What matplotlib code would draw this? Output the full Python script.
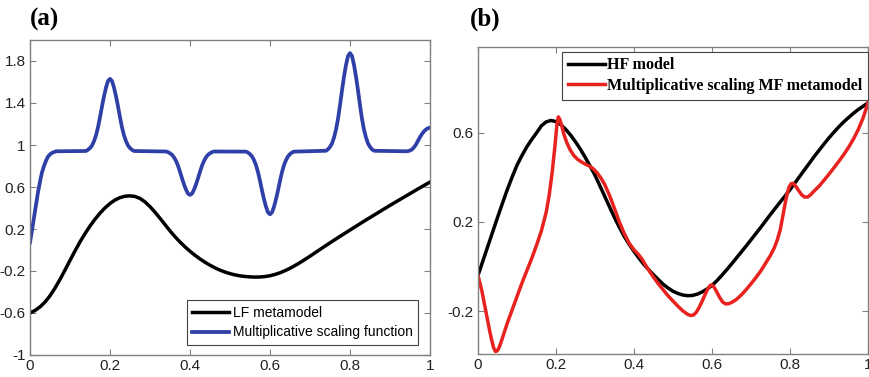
import matplotlib
matplotlib.use("Agg")
import matplotlib.pyplot as plt

# ---- panel (a): low-fidelity metamodel and multiplicative scaling function ----
lf_x = [0.0, 0.0125, 0.025, 0.0375, 0.05, 0.0625, 0.075, 0.0875, 0.1, 0.1125,
        0.125, 0.1375, 0.15, 0.1625, 0.175, 0.1875, 0.2, 0.2125, 0.225, 0.2375,
        0.25, 0.2625, 0.275, 0.2875, 0.3, 0.3125, 0.325, 0.3375, 0.35, 0.3625,
        0.375, 0.3875, 0.4, 0.4125, 0.425, 0.4375, 0.45, 0.4625, 0.475, 0.4875,
        0.5, 0.5125, 0.525, 0.5375, 0.55, 0.5625, 0.575, 0.5875, 0.6, 0.6125,
        0.625, 0.6375, 0.65, 0.6625, 0.675, 0.6875, 0.7, 0.7125, 0.725, 0.7375,
        0.75, 0.7625, 0.775, 0.7875, 0.8, 0.8125, 0.825, 0.8375, 0.85, 0.8625,
        0.875, 0.8875, 0.9, 0.9125, 0.925, 0.9375, 0.95, 0.9625, 0.975, 0.9875, 1.0]
lf_y = [-0.600, -0.576, -0.542, -0.496, -0.436, -0.363, -0.280, -0.191, -0.099, -0.009,
        0.077, 0.156, 0.228, 0.293, 0.351, 0.401, 0.443, 0.476, 0.499, 0.512,
        0.516, 0.510, 0.491, 0.458, 0.413, 0.360, 0.302, 0.242, 0.182, 0.127,
        0.076, 0.030, -0.012, -0.050, -0.085, -0.117, -0.145, -0.170, -0.192, -0.210,
        -0.225, -0.237, -0.246, -0.252, -0.256, -0.258, -0.257, -0.253, -0.245, -0.233,
        -0.217, -0.197, -0.174, -0.148, -0.120, -0.090, -0.059, -0.027, 0.005, 0.037,
        0.068, 0.099, 0.130, 0.160, 0.190, 0.220, 0.250, 0.280, 0.309, 0.338,
        0.367, 0.396, 0.425, 0.453, 0.481, 0.509, 0.537, 0.565, 0.593, 0.620, 0.647]

sc_x = [0.0, 0.005, 0.01, 0.015, 0.02, 0.025, 0.03, 0.035, 0.04, 0.045, 0.05, 0.055, 0.065,
        0.14, 0.145, 0.15, 0.155, 0.16, 0.165, 0.17, 0.175, 0.18, 0.185, 0.19, 0.195,
        0.2, 0.205, 0.21, 0.215, 0.22, 0.225, 0.23, 0.235, 0.24, 0.245, 0.25, 0.255, 0.26,
        0.34, 0.345, 0.35, 0.355, 0.36, 0.365, 0.37, 0.375, 0.38, 0.385, 0.39, 0.395,
        0.4, 0.405, 0.41, 0.415, 0.42, 0.425, 0.43, 0.435, 0.44, 0.445, 0.45, 0.455, 0.46,
        0.54, 0.545, 0.55, 0.555, 0.56, 0.565, 0.57, 0.575, 0.58, 0.585, 0.59, 0.595,
        0.6, 0.605, 0.61, 0.615, 0.62, 0.625, 0.63, 0.635, 0.64, 0.645, 0.65, 0.655, 0.66,
        0.74, 0.745, 0.75, 0.755, 0.76, 0.765, 0.77, 0.775, 0.78, 0.785, 0.79, 0.795,
        0.8, 0.805, 0.81, 0.815, 0.82, 0.825, 0.83, 0.835, 0.84, 0.845, 0.85, 0.855, 0.86,
        0.94, 0.945, 0.95, 0.955, 0.96, 0.965, 0.97, 0.975, 0.98, 0.985, 0.99, 0.995, 1.0]
sc_y = [0.07, 0.19, 0.31, 0.43, 0.55, 0.65, 0.74, 0.80, 0.85, 0.89, 0.91, 0.925, 0.94,
        0.943, 0.954, 0.971, 0.995, 1.037, 1.092, 1.168, 1.264, 1.368, 1.464, 1.547, 1.609,
        1.630, 1.609, 1.547, 1.464, 1.368, 1.264, 1.168, 1.092, 1.037, 0.995, 0.971, 0.954, 0.943,
        0.938, 0.932, 0.921, 0.907, 0.882, 0.849, 0.803, 0.745, 0.683, 0.625, 0.575, 0.537,
        0.525, 0.537, 0.575, 0.625, 0.683, 0.745, 0.803, 0.849, 0.882, 0.907, 0.921, 0.932, 0.938,
        0.937, 0.928, 0.913, 0.892, 0.856, 0.808, 0.742, 0.658, 0.568, 0.484, 0.412, 0.358,
        0.340, 0.358, 0.412, 0.484, 0.568, 0.658, 0.742, 0.808, 0.856, 0.892, 0.913, 0.928, 0.937,
        0.945, 0.959, 0.982, 1.015, 1.071, 1.146, 1.249, 1.379, 1.520, 1.651, 1.763, 1.847,
        1.875, 1.847, 1.763, 1.651, 1.520, 1.379, 1.249, 1.146, 1.071, 1.015, 0.982, 0.959, 0.945,
        0.940, 0.942, 0.947, 0.958, 0.978, 1.005, 1.040, 1.075, 1.105, 1.130, 1.148, 1.160, 1.165]

# ---- panel (b): high-fidelity model and multi-fidelity metamodel ----
hf_x = lf_x
hf_y = [-0.040, 0.025, 0.090, 0.155, 0.220, 0.283, 0.345, 0.402, 0.455, 0.498,
        0.537, 0.570, 0.600, 0.632, 0.650, 0.656, 0.651, 0.637, 0.616, 0.590,
        0.560, 0.527, 0.490, 0.451, 0.410, 0.363, 0.315, 0.267, 0.220, 0.176,
        0.135, 0.100, 0.068, 0.038, 0.010, -0.014, -0.037, -0.059, -0.080, -0.097,
        -0.111, -0.121, -0.128, -0.131, -0.130, -0.124, -0.114, -0.101, -0.085, -0.064,
        -0.040, -0.015, 0.011, 0.038, 0.065, 0.092, 0.120, 0.148, 0.176, 0.205,
        0.234, 0.262, 0.290, 0.317, 0.345, 0.375, 0.405, 0.435, 0.465, 0.495,
        0.523, 0.551, 0.578, 0.603, 0.627, 0.649, 0.669, 0.688, 0.705, 0.720, 0.735]

mf_x = [0.0, 0.005, 0.01, 0.015, 0.02, 0.025, 0.03, 0.035, 0.04, 0.045, 0.05, 0.055,
        0.06, 0.0675, 0.075, 0.0875, 0.1, 0.1125, 0.125, 0.1375, 0.15, 0.1625, 0.175,
        0.1825, 0.19, 0.1975, 0.2025, 0.206, 0.21, 0.215, 0.22, 0.228, 0.236, 0.245,
        0.255, 0.265, 0.275, 0.285, 0.295, 0.305, 0.315, 0.325, 0.3375, 0.35, 0.3625,
        0.375, 0.3875, 0.4, 0.41, 0.42, 0.43, 0.44, 0.45, 0.4625, 0.475, 0.4875, 0.5,
        0.5125, 0.525, 0.5375, 0.545, 0.5525, 0.56, 0.5675, 0.575, 0.5825, 0.59, 0.596,
        0.6, 0.605, 0.6125, 0.62, 0.6275, 0.635, 0.6425, 0.65, 0.6625, 0.675, 0.6875,
        0.7, 0.7125, 0.725, 0.7375, 0.75, 0.76, 0.7675, 0.775, 0.7825, 0.79, 0.797,
        0.803, 0.808, 0.815, 0.8225, 0.83, 0.8375, 0.845, 0.8525, 0.8625, 0.875,
        0.8875, 0.9, 0.9125, 0.925, 0.9375, 0.95, 0.9625, 0.975, 0.9875, 1.0]
mf_y = [-0.040, -0.075, -0.110, -0.155, -0.200, -0.245, -0.290, -0.330, -0.365, -0.382, -0.378, -0.360,
        -0.335, -0.295, -0.255, -0.195, -0.135, -0.075, -0.020, 0.035, 0.095, 0.160, 0.245,
        0.320, 0.420, 0.545, 0.640, 0.672, 0.660, 0.630, 0.595, 0.555, 0.525, 0.500,
        0.482, 0.470, 0.460, 0.452, 0.440, 0.422, 0.398, 0.368, 0.318, 0.260, 0.200,
        0.148, 0.105, 0.075, 0.057, 0.035, 0.005, -0.022, -0.048, -0.078, -0.105, -0.132, -0.155,
        -0.178, -0.199, -0.215, -0.220, -0.218, -0.205, -0.182, -0.155, -0.125, -0.098, -0.084,
        -0.083, -0.092, -0.115, -0.140, -0.160, -0.168, -0.167, -0.162, -0.148, -0.128, -0.104,
        -0.078, -0.050, -0.020, 0.015, 0.050, 0.085, 0.120, 0.165, 0.235, 0.305, 0.355,
        0.372, 0.374, 0.360, 0.340, 0.322, 0.312, 0.312, 0.322, 0.340, 0.362,
        0.388, 0.415, 0.443, 0.472, 0.502, 0.535, 0.572, 0.615, 0.668, 0.735]

x_ticks = [0, 0.2, 0.4, 0.6, 0.8, 1]
x_tick_labels = ["0", "0.2", "0.4", "0.6", "0.8", "1"]
a_y_ticks = [-1, -0.6, -0.2, 0.2, 0.6, 1, 1.4, 1.8]
a_y_tick_labels = ["-1", "-0.6", "-0.2", "0.2", "0.6", "1", "1.4", "1.8"]
b_y_ticks = [-0.2, 0.2, 0.6]
b_y_tick_labels = ["-0.2", "0.2", "0.6"]

SANS = ["Liberation Sans", "DejaVu Sans"]
SERIF = ["Liberation Serif", "DejaVu Serif"]
FRAME = "#808080"
BLUE = "#2f3fa8"
RED = "#e8231f"

fig = plt.figure(figsize=(8.7, 3.77), dpi=100)
W, H = 870.0, 377.0
ax_a = fig.add_axes([30 / W, 1 - 355 / H, 400 / W, 315 / H])
ax_b = fig.add_axes([478 / W, 1 - 354 / H, 390 / W, 307 / H])


def style_axes(ax):
    for sp in ax.spines.values():
        sp.set_color(FRAME)
        sp.set_linewidth(1.0)
    ax.tick_params(direction="in", length=4, width=0.8, color=FRAME,
                   top=True, right=True, labelsize=11, labelcolor="#222222", pad=3)
    for lab in ax.get_xticklabels() + ax.get_yticklabels():
        lab.set_family(SANS)


# panel (a)
ax_a.plot(lf_x, lf_y, color="black", lw=2.5, solid_joinstyle="round",
          label="LF metamodel")
ax_a.plot(sc_x, sc_y, color=BLUE, lw=2.7, solid_joinstyle="round",
          label="Multiplicative scaling function")
ax_a.set_xlim(0, 1)
ax_a.set_ylim(-1, 2)
ax_a.set_xticks(x_ticks, x_tick_labels)
ax_a.set_yticks(a_y_ticks, a_y_tick_labels)
style_axes(ax_a)
leg_a = ax_a.legend(loc="lower right", bbox_to_anchor=(0.97, 0.032),
                    prop={"family": SANS, "size": 10}, handlelength=2.65,
                    handletextpad=0.25, borderpad=0.4, labelspacing=0.42,
                    fancybox=False, framealpha=1, borderaxespad=0)
leg_a.get_frame().set_edgecolor("#444444")
leg_a.get_frame().set_linewidth(0.8)

# panel (b)
ax_b.plot(hf_x, hf_y, color="black", lw=2.5, solid_joinstyle="round",
          label="HF model")
ax_b.plot(mf_x, mf_y, color=RED, lw=2.5, solid_joinstyle="round",
          label="Multiplicative scaling MF metamodel")
ax_b.set_xlim(0, 1)
ax_b.set_ylim(-0.393, 0.986)
ax_b.set_xticks(x_ticks, x_tick_labels)
ax_b.set_yticks(b_y_ticks, b_y_tick_labels)
style_axes(ax_b)
leg_b = ax_b.legend(loc="upper right", bbox_to_anchor=(1.0, 0.985),
                    prop={"family": SERIF, "weight": "bold", "size": 11.5},
                    handlelength=2.3, handletextpad=0.15, borderpad=0.35,
                    labelspacing=0.3, fancybox=False, framealpha=1, borderaxespad=0)
leg_b.get_frame().set_edgecolor("#444444")
leg_b.get_frame().set_linewidth(0.8)

fig.text(30 / W, 1 - 19 / H, "(a)", family=SERIF, weight="bold", size=18,
         va="center", ha="left")
fig.text(470 / W, 1 - 19 / H, "(b)", family=SERIF, weight="bold", size=18,
         va="center", ha="left")

fig.savefig("out.png", dpi=100)
